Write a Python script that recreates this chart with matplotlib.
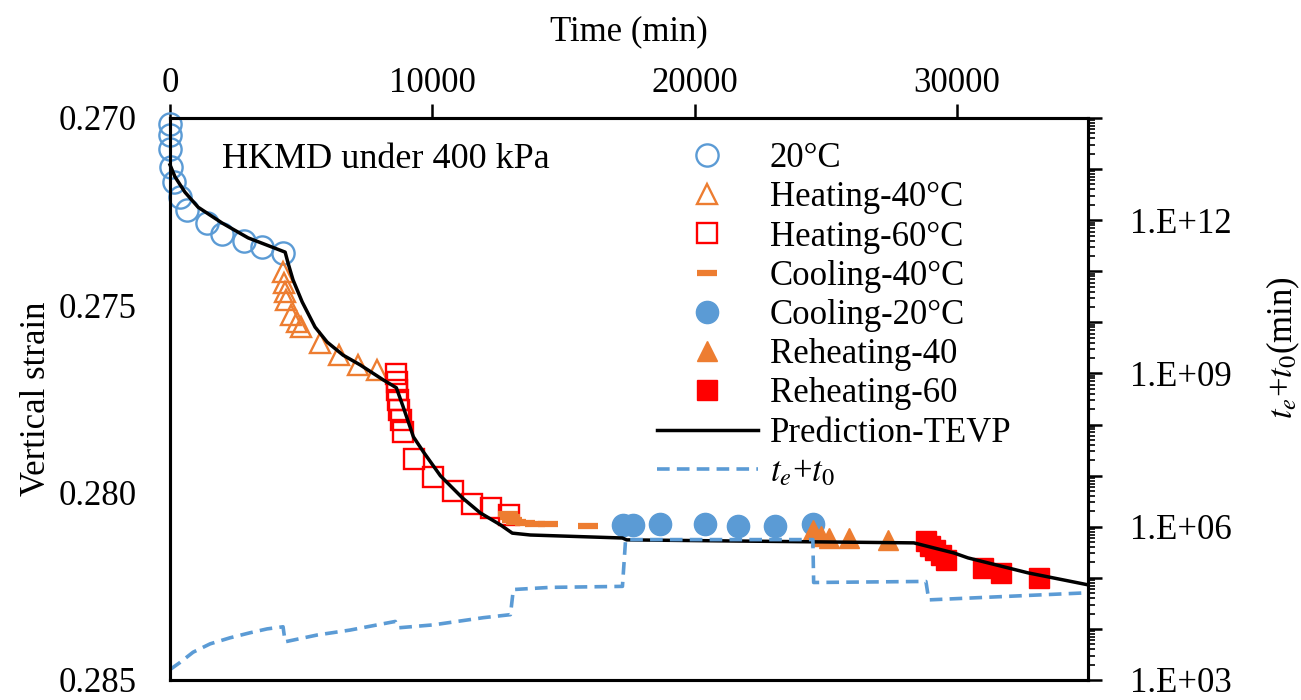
import numpy as np
import matplotlib
matplotlib.use("Agg")
import matplotlib.pyplot as plt
import matplotlib.ticker as ticker

plt.rcParams.update({
    "font.family": ["Liberation Serif", "DejaVu Serif"],
    "mathtext.fontset": "stix",
    "font.size": 25,
})

BLUE = "#5B9BD5"
ORANGE = "#ED7D31"
RED = "#FF0000"

# ---------------------------------------------------------------------------
# Data (time in min, vertical strain)
# ---------------------------------------------------------------------------
t20 = [0, 0, 0, 40, 150, 380, 650, 1410, 1980, 2820, 3510, 4310]
s20 = [0.27016, 0.27045, 0.27083, 0.27131, 0.27171, 0.27211, 0.27246,
       0.27281, 0.27310, 0.27328, 0.27344, 0.27360]

t_h40 = [4310, 4350, 4390, 4430, 4620, 4850, 5000, 5730, 6450, 7180, 7900]
s_h40 = [0.27411, 0.27440, 0.27464, 0.27486, 0.27526, 0.27544, 0.27558,
         0.27600, 0.27633, 0.27659, 0.27673]

t_h60 = [8630, 8660, 8660, 8700, 8740, 8820, 8890, 9310, 10040, 10800,
         11530, 12250, 12940]
s_h60 = [0.27683, 0.27705, 0.27726, 0.27753, 0.27779, 0.27806, 0.27838,
         0.27910, 0.27958, 0.27996, 0.28030, 0.28041, 0.28060]

t_c40 = [12900, 12980, 13050, 13210, 13550, 13930, 14430, 15920]
s_c40 = [0.28057, 0.28065, 0.28073, 0.28078, 0.28081, 0.28084, 0.28084, 0.28089]

t_c20 = [17290, 17670, 18700, 20380, 21640, 23050, 24510]
s_c20 = [0.28086, 0.28086, 0.28084, 0.28084, 0.28089, 0.28089, 0.28084]

t_r40 = [24510, 24810, 25120, 25880, 27370]
s_r40 = [0.28100, 0.28116, 0.28121, 0.28121, 0.28126]

t_r60 = [28820, 28970, 29160, 29390, 29580, 30990, 31680, 33130]
s_r60 = [0.28129, 0.28142, 0.28153, 0.28166, 0.28180, 0.28201, 0.28214, 0.28228]

t_pred = [0, 190, 570, 1070, 1980, 2980, 4390, 4500, 4690, 5040, 5530, 5990,
          6600, 7250, 8130, 8630, 8890, 9280, 9660, 10310, 11150, 11830,
          12600, 13050, 13740, 17250, 17410, 28360, 29890, 30420, 32710, 35000]
s_pred = [0.27125, 0.27157, 0.27198, 0.27238, 0.27280, 0.27320, 0.27358,
          0.27387, 0.27432, 0.27491, 0.27558, 0.27598, 0.27633, 0.27659,
          0.27699, 0.27720, 0.27771, 0.27851, 0.27891, 0.27955, 0.28014,
          0.28054, 0.28086, 0.28108, 0.28113, 0.28121, 0.28126, 0.28134,
          0.28161, 0.28174, 0.28214, 0.28246]

# equivalent time t_e + t_0 (min), right log axis
t_te = [0, 380, 880, 1530, 2290, 3050, 3700, 4310, 4390, 5610, 6870, 8590,
        8700, 10040, 11950, 12980, 13090, 14500, 17250, 17370, 24510, 24540,
        28820, 28930, 35000]
v_te = [1.6e3, 2.2e3, 3.5e3, 5.1e3, 6.7e3, 8.4e3, 1.0e4, 1.1e4, 5.6e3,
        7.6e3, 9.5e3, 1.4e4, 1.05e4, 1.2e4, 1.66e4, 1.9e4, 5.9e4, 6.5e4,
        6.8e4, 5.6e5, 5.6e5, 8.1e4, 8.5e4, 3.7e4, 5.1e4]

# ---------------------------------------------------------------------------
fig = plt.figure(figsize=(13.01, 7.0), dpi=100)
ax = fig.add_axes([170 / 1301, 1 - 680 / 700, (1088 - 170) / 1301, (680 - 118) / 700])
ax2 = ax.twinx()

ax.plot(t20, s20, "o", mfc="none", mec=BLUE, mew=1.7, ms=16, ls="none",
        clip_on=False, label="20°C", zorder=3)
ax.plot(t_h40, s_h40, "^", mfc="none", mec=ORANGE, mew=1.7, ms=15, ls="none",
        clip_on=False, label="Heating-40°C", zorder=3)
ax.plot(t_h60, s_h60, "s", mfc="none", mec=RED, mew=1.7, ms=14, ls="none",
        clip_on=False, label="Heating-60°C", zorder=3)
ax.plot(t_c40, s_c40, "_", mec=ORANGE, mew=4.5, ms=15, ls="none",
        label="Cooling-40°C", zorder=3)
ax.plot(t_c20, s_c20, "o", color=BLUE, ms=16, ls="none",
        label="Cooling-20°C", zorder=3)
ax.plot(t_r40, s_r40, "^", color=ORANGE, ms=15, ls="none",
        label="Reheating-40", zorder=3)
ax.plot(t_r60, s_r60, "s", color=RED, ms=15, ls="none",
        label="Reheating-60", zorder=3)
ax.plot(t_pred, s_pred, "-", color="black", lw=2.5, label="Prediction-TEVP",
        zorder=4, clip_on=False)

ln_te, = ax2.plot(t_te, v_te, color=BLUE, lw=2.6, dashes=(3.5, 2),
                  label=r"$\mathit{t_e}$+$\mathit{t_0}$")

ax.set_xlim(0, 35000)
ax.set_ylim(0.285, 0.270)
ax.xaxis.tick_top()
ax.xaxis.set_label_position("top")
ax.set_xticks([0, 10000, 20000, 30000])
ax.set_yticks([0.270, 0.275, 0.280, 0.285])
ax.yaxis.set_major_formatter(ticker.FormatStrFormatter("%.3f"))
ax.set_xlabel("Time (min)", labelpad=19)
ax.set_ylabel("Vertical strain")
ax.yaxis.set_label_coords(-0.127, 0.5)
ax.tick_params(axis="x", direction="out", length=10, width=1.8, pad=3)
ax.tick_params(axis="y", direction="out", length=0, width=1.8, pad=24)

ax2.set_yscale("log")
ax2.set_ylim(1e3, 1e14)
ax2.yaxis.set_major_locator(ticker.FixedLocator([10.0 ** k for k in range(3, 15)]))
ax2.yaxis.set_minor_locator(ticker.LogLocator(base=10, subs=np.arange(2, 10), numticks=30))
ax2.yaxis.set_major_formatter(ticker.FuncFormatter(
    lambda v, _: f"1.E+{int(round(np.log10(v))):02d}" if int(round(np.log10(v))) % 3 == 0 else ""))
ax2.yaxis.set_minor_formatter(ticker.NullFormatter())
ax2.tick_params(axis="y", which="major", direction="out", length=10, width=1.8, pad=20)
ax2.tick_params(axis="y", which="minor", direction="out", length=5, width=1.2)
fig.text(1283 / 1301, 1 - 348 / 700, r"$t_e$+$t_0$(min)", rotation=90,
         ha="center", va="center", fontsize=25)

for a in (ax, ax2):
    for sp in a.spines.values():
        sp.set_linewidth(2.2)

ax.text(1985, 0.27112, "HKMD under 400 kPa", ha="left", va="center", fontsize=26)

handles, labels = ax.get_legend_handles_labels()
handles.append(ln_te)
labels.append(ln_te.get_label())
ax.legend(handles, labels, loc="upper left", frameon=False,
          bbox_to_anchor=(657 / 1301, 1 - 142 / 700), bbox_transform=fig.transFigure,
          borderpad=0, borderaxespad=0, handlelength=2.9, handletextpad=0.35,
          labelspacing=0.18, fontsize=25)

fig.savefig("out.png", dpi=100)
